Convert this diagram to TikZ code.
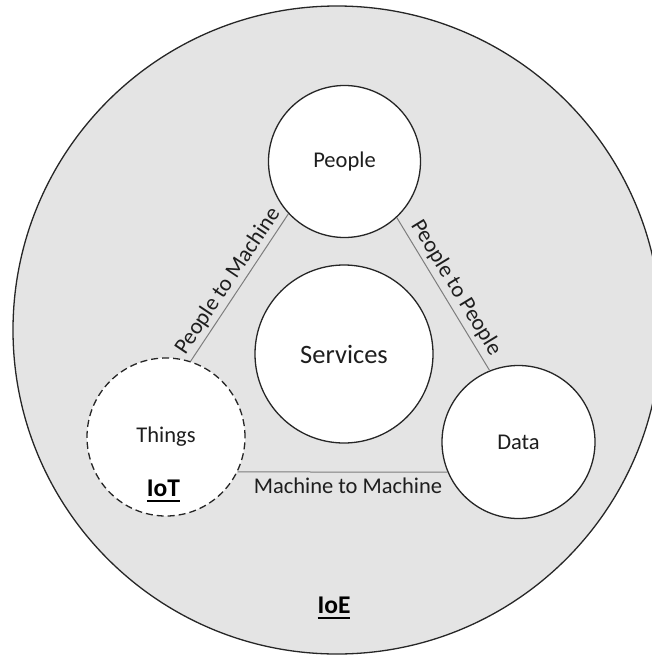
\documentclass[tikz,border=0pt]{standalone}
\usepackage{fontspec}
\setmainfont{Carlito}
\definecolor{fillgray}{RGB}{228,228,228}
\definecolor{edgegray}{RGB}{38,38,38}
\definecolor{linkgray}{RGB}{125,125,125}
\definecolor{txt}{RGB}{30,30,30}
\newcommand\ulbold[1]{\setbox0\hbox{#1}\copy0\kern-\wd0\vrule width\wd0 height -3.5pt depth 5.5pt}
\begin{document}
\begin{tikzpicture}[x=1pt,y=-1pt,
  ring/.style={circle, draw=edgegray, line width=1.3pt, fill=white, inner sep=0pt, text=txt, font=\fontsize{22.5}{27}\selectfont},
  link/.style={draw=linkgray, line width=1pt},
  linklabel/.style={inner sep=0pt, text=txt, font=\fontsize{22.5}{27}\selectfont},
  tag/.style={inner sep=0pt, anchor=base, text=black, font=\fontsize{25.5}{30}\selectfont\bfseries}]
\useasboundingbox (0,0) rectangle (652,656);
\clip (0,0) rectangle (652,656);
\node[circle, draw=edgegray, line width=1.3pt, fill=fillgray, minimum size=648pt, inner sep=0pt] (ioe) at (337,330) {};
\node[ring, minimum size=152pt] (people) at (344.5,161.5) {People};
\node[ring, minimum size=178pt, font=\fontsize{26.5}{31}\selectfont] (services) at (344,354) {Services};
\node[ring, minimum size=158pt, dash pattern=on 7pt off 4pt] (things) at (166,437) {Things};
\node[ring, minimum size=153pt] (data) at (518.5,442) {Data};
\draw[link] (people.223.4) -- (things.72.7);
\draw[link] (people.313.2) -- (data.112.1);
\draw[link] (things.-26.2) -- (data.203);
\node[linklabel, rotate=56.2] (pm) at (228,281) {People to Machine};
\node[linklabel, rotate=-58.6] (pp) at (456,288) {People to People};
\node[linklabel] (mm) at (348,486) {Machine to Machine};
\node[tag] (iot) at (163.5,496) {\ulbold{IoT}};
\node[tag] (ioelabel) at (334,613) {\ulbold{IoE}};
\end{tikzpicture}
\end{document}
